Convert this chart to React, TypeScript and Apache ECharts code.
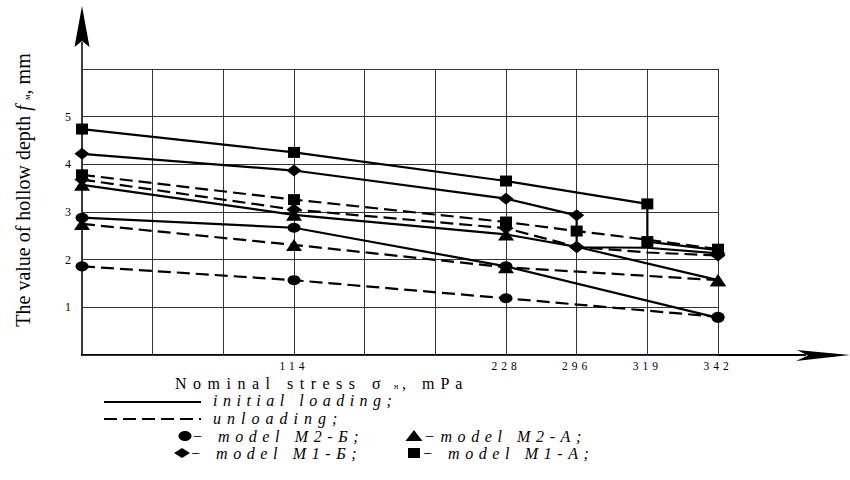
import React, { useEffect, useRef } from 'react';
import * as echarts from 'echarts';

// x: nominal stress categories (MPa); grid columns
const stressCategories = ['0', '38', '76', '114', '152', '190', '228', '296', '319', '342'];
const stressTickLabels = ['114', '228', '296', '319', '342'];
// y: hollow depth tick labels (mm)
const depthTickLabels = [1, 2, 3, 4, 5];

// [stress category, depth f (mm), optional 0 = no marker]
const m1aLoading = [['0', 4.74], ['114', 4.25], ['228', 3.65], ['319', 3.17], ['319', 2.38], ['342', 2.2]];
const m1aUnloading = [['0', 3.78], ['114', 3.26], ['228', 2.79], ['296', 2.6], ['319', 2.42, 0], ['342', 2.22]];
const m1bLoading = [['0', 4.22], ['114', 3.87], ['228', 3.28], ['296', 2.93], ['296', 2.26], ['319', 2.25, 0], ['342', 2.13]];
const m1bUnloading = [['0', 3.68], ['114', 3.05], ['228', 2.66], ['296', 2.27], ['319', 2.15, 0], ['342', 2.09]];
const m2aLoading = [['0', 3.57], ['114', 2.94], ['228', 2.53], ['296', 2.27, 0], ['342', 1.57]];
const m2aUnloading = [['0', 2.75], ['114', 2.31], ['228', 1.84], ['342', 1.57]];
const m2bLoading = [['0', 2.88], ['114', 2.67], ['228', 1.86], ['342', 0.78]];
const m2bUnloading = [['0', 1.86], ['114', 1.57], ['228', 1.19], ['342', 0.8]];

const legendLoading = 'initial loading;';
const legendUnloading = 'unloading;';
const legendM2B = '− model M2-Б;';
const legendM2A = '−model M2-A;';
const legendM1B = '− model M1-Б;';
const legendM1A = '− model M1-A;';
const xTitleMain = 'Nominal stress σ';
const xTitleSub = 'н';
const xTitleEnd = ', mPa';

const SERIF = '"Liberation Serif", "Times New Roman", serif';
const BLACK = '#000';
const DASH = [13, 6];

const spacingMap: Record<string, number> = {
  [legendLoading]: 5.5,
  [legendUnloading]: 6,
  [legendM2B]: 5.6,
  [legendM2A]: 5.6,
  [legendM1B]: 5.6,
  [legendM1A]: 5.6,
  [xTitleMain]: 6.5,
  [xTitleEnd]: 6,
};
stressTickLabels.forEach((l) => (spacingMap[l] = 4));

const symbols: Record<string, { symbol: string; size: number[] }> = {
  square: { symbol: 'rect', size: [12, 11] },
  diamond: { symbol: 'diamond', size: [15, 12] },
  triangle: { symbol: 'triangle', size: [16, 12] },
  circle: { symbol: 'circle', size: [13, 10] },
};

function makeSeries(name: string, data: any[], shape: string, dashed: boolean) {
  const s = symbols[shape];
  return {
    name,
    type: 'line',
    data,
    symbol: s.symbol,
    symbolSize: (val: any) => (val && val[2] === 0 ? 0 : s.size),
    showSymbol: true,
    smooth: false,
    lineStyle: { color: BLACK, width: 2.2, type: dashed ? DASH : 'solid' },
    itemStyle: { color: BLACK, borderWidth: 0 },
    emphasis: { disabled: true },
    z: dashed ? 3 : 4,
  };
}

function legendText(text: string, x: number, y: number, italic = true) {
  return {
    type: 'text',
    x,
    y,
    style: {
      text,
      fill: BLACK,
      fontSize: 16,
      fontStyle: italic ? 'italic' : 'normal',
      fontFamily: SERIF,
      align: 'left',
      verticalAlign: 'middle',
    },
  };
}

export default function App() {
  const ref = useRef<HTMLDivElement>(null);

  useEffect(() => {
    if (!ref.current) return;
    const el = ref.current;
    const chart = echarts.init(el, undefined, { renderer: 'svg' });

    const rowLoad = 400;
    const rowUnload = 418;
    const rowM2 = 436;
    const rowM1 = 453;

    const option: any = {
      animation: false,
      backgroundColor: '#fff',
      grid: { left: 82, right: 132, top: 69, bottom: 125, containLabel: false },
      xAxis: {
        type: 'category',
        data: stressCategories,
        boundaryGap: false,
        axisLine: { show: false },
        axisTick: { show: false },
        axisLabel: {
          interval: 0,
          margin: 5,
          color: BLACK,
          fontSize: 11.5,
          fontFamily: SERIF,
          formatter: (v: string) => (stressTickLabels.includes(v) ? v : ''),
        },
        splitLine: { show: true, lineStyle: { color: '#333', width: 1 } },
      },
      yAxis: {
        type: 'value',
        min: 0,
        max: 6,
        interval: 1,
        axisLine: { show: false },
        axisTick: { show: false },
        axisLabel: {
          margin: 11,
          color: BLACK,
          fontSize: 12,
          fontFamily: SERIF,
          formatter: (v: number) => (depthTickLabels.includes(v) ? String(v) : ''),
        },
        splitLine: { show: true, lineStyle: { color: '#333', width: 1 } },
      },
      series: [
        makeSeries('M2-Б unloading', m2bUnloading, 'circle', true),
        makeSeries('M2-A unloading', m2aUnloading, 'triangle', true),
        makeSeries('M1-Б unloading', m1bUnloading, 'diamond', true),
        makeSeries('M1-A unloading', m1aUnloading, 'square', true),
        makeSeries('M2-Б loading', m2bLoading, 'circle', false),
        makeSeries('M2-A loading', m2aLoading, 'triangle', false),
        makeSeries('M1-Б loading', m1bLoading, 'diamond', false),
        makeSeries('M1-A loading', m1aLoading, 'square', false),
      ],
      graphic: [
        // y axis with arrow
        { type: 'line', shape: { x1: 82, y1: 356, x2: 82, y2: 42 }, style: { stroke: BLACK, lineWidth: 1.5 } },
        { type: 'polygon', shape: { points: [[82, 6], [89.5, 47], [82, 41], [74.5, 47]] }, style: { fill: BLACK } },
        // x axis with arrow
        { type: 'line', shape: { x1: 81, y1: 355, x2: 806, y2: 355 }, style: { stroke: BLACK, lineWidth: 2 } },
        { type: 'polygon', shape: { points: [[850, 355], [797, 350], [808, 355.5], [796, 361]] }, style: { fill: BLACK } },
        // y axis title
        {
          type: 'text',
          x: 23,
          y: 190,
          rotation: Math.PI / 2,
          style: {
            text: 'The value of hollow depth {f|f} {s|м}, mm',
            fill: BLACK,
            fontSize: 20,
            fontFamily: SERIF,
            align: 'center',
            verticalAlign: 'middle',
            rich: {
              f: { fontSize: 20, fontFamily: SERIF, fontStyle: 'italic', fill: BLACK },
              s: { fontSize: 9, fontFamily: SERIF, fill: BLACK, padding: [7, 0, 0, 0] },
            },
          },
        },
        // x axis title
        {
          type: 'text', x: 175, y: 383,
          style: { text: xTitleMain, fill: BLACK, fontSize: 16, fontFamily: SERIF, align: 'left', verticalAlign: 'middle' },
        },
        {
          type: 'text', x: 394, y: 386,
          style: { text: xTitleSub, fill: BLACK, fontSize: 8, fontFamily: SERIF, align: 'left', verticalAlign: 'middle' },
        },
        {
          type: 'text', x: 402, y: 383,
          style: { text: xTitleEnd, fill: BLACK, fontSize: 16, fontFamily: SERIF, align: 'left', verticalAlign: 'middle' },
        },
        // legend: line styles
        { type: 'line', shape: { x1: 104, y1: rowLoad + 2, x2: 201, y2: rowLoad + 2 }, style: { stroke: BLACK, lineWidth: 2 } },
        legendText(legendLoading, 213, rowLoad),
        { type: 'line', shape: { x1: 104, y1: rowUnload + 1, x2: 201, y2: rowUnload + 1 }, style: { stroke: BLACK, lineWidth: 2, lineDash: DASH } },
        legendText(legendUnloading, 213, rowUnload),
        // legend: markers
        { type: 'ellipse', shape: { cx: 185, cy: rowM2, rx: 6.5, ry: 5 }, style: { fill: BLACK } },
        legendText(legendM2B, 192, rowM2),
        { type: 'polygon', shape: { points: [[414, rowM2 - 6], [422.5, rowM2 + 5], [405.5, rowM2 + 5]] }, style: { fill: BLACK } },
        legendText(legendM2A, 424, rowM2),
        { type: 'polygon', shape: { points: [[182, rowM1 - 5], [190, rowM1], [182, rowM1 + 5], [174, rowM1]] }, style: { fill: BLACK } },
        legendText(legendM1B, 190, rowM1),
        { type: 'rect', shape: { x: 408, y: rowM1 - 5, width: 12, height: 10 }, style: { fill: BLACK } },
        legendText(legendM1A, 422, rowM1),
      ],
    };

    chart.setOption(option);

    const applySpacing = () => {
      el.querySelectorAll('text').forEach((t) => {
        const s = spacingMap[(t.textContent || '').trim()];
        if (s !== undefined) {
          (t as any).style.letterSpacing = s + 'px';
          t.setAttribute('letter-spacing', s + 'px');
        }
      });
    };
    chart.on('finished', applySpacing);
    applySpacing();
    const raf = requestAnimationFrame(applySpacing);
    const timer = setTimeout(applySpacing, 50);

    return () => {
      cancelAnimationFrame(raf);
      clearTimeout(timer);
      chart.dispose();
    };
  }, []);

  return (
    <div
      ref={ref}
      style={{ position: 'fixed', left: 0, top: 0, width: 850, height: 480, background: '#fff' }}
    />
  );
}
